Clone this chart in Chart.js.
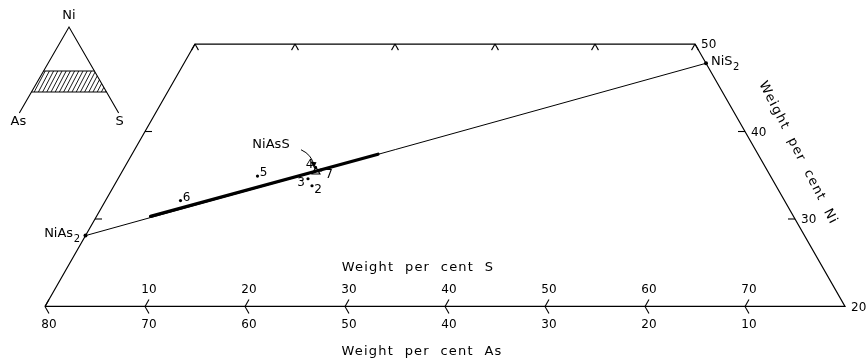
<!DOCTYPE html>
<html>
<head>
<meta charset="utf-8">
<script src="https://cdn.jsdelivr.net/npm/chart.js@4.4.0/dist/chart.umd.min.js"></script>
<style>
  html, body { margin: 0; padding: 0; background: #fff; }
  #plot { width: 866px; height: 359px; }
</style>
</head>
<body>
<div id="plot"><canvas id="chart" width="866" height="359"></canvas></div>
<script>
// compositions in weight per cent (Ni, S); As = 100 - Ni - S
const frameNi = [20, 20, 50, 50, 20];
const frameS = [0, 80, 50, 0, 0];

const phaseNames = ['NiAs2', 'NiAsS', 'NiS2'];
const phaseNi = [28.1, 35.4, 47.8];
const phaseS = [0, 19.4, 52.2];

// thick part of the NiAs2 - NiS2 join
const rangeNi = [30.3, 37.4];
const rangeS = [5.4, 24.6];

const sampleLabels = ['2', '3', '4', '5', '6', '7'];
const sampleNi = [33.8, 34.6, 35.9, 34.9, 32.1, 35.6];
const sampleS = [19.8, 19.0, 19.1, 13.8, 7.5, 19.8];

// bottom edge (Ni = 20): S ticks, As labels
const bottomTickS = [0, 10, 20, 30, 40, 50, 60, 70];
const bottomSLabels = ['', '10', '20', '30', '40', '50', '60', '70'];
const bottomAsLabels = ['80', '70', '60', '50', '40', '30', '20', '10'];
// top edge (Ni = 50)
const topTickS = [0, 10, 20, 30, 40, 50];
// Ni ticks on the side edges
const niTicks = [30, 40];
const niLabelValues = [50, 40, 30, 20];
const niLabels = ['50', '40', '30', '20'];

const R3 = Math.sqrt(3) / 2;
function toXY(ni, s) {
    return { x: s + ni / 2, y: ni * R3 };
}
function zip(nis, ss) {
    return nis.map((n, i) => toXY(n, ss[i]));
}

const FONT = '"DejaVu Sans", sans-serif';

const overlay = {
    id: 'overlay',
    afterDatasetsDraw(chart) {
        const ctx = chart.ctx;
        const xs = chart.scales.x, ys = chart.scales.y;
        const px = (ni, s) => {
            const p = toXY(ni, s);
            return [xs.getPixelForValue(p.x), ys.getPixelForValue(p.y)];
        };
        // unit pixel directions of the grid lines
        const dir = (a, b) => {
            const dx = b[0] - a[0], dy = b[1] - a[1];
            const l = Math.hypot(dx, dy);
            return [dx / l, dy / l];
        };
        const base = px(20, 10);
        const sDir = dir(base, px(21, 10));      // constant S, going up-right
        const asDir = dir(base, px(21, 9));      // constant As, going up-left

        ctx.save();
        ctx.strokeStyle = '#000';
        ctx.fillStyle = '#000';
        ctx.lineWidth = 1.1;
        const seg = (p, d, len) => {
            ctx.beginPath();
            ctx.moveTo(p[0], p[1]);
            ctx.lineTo(p[0] + d[0] * len, p[1] + d[1] * len);
            ctx.stroke();
        };

        // bottom ticks "<"
        bottomTickS.forEach(s => {
            const p = px(20, s);
            seg(p, sDir, 8);
            seg(p, [-asDir[0], -asDir[1]], 8);
        });
        // top ticks "^"
        topTickS.forEach(s => {
            const p = px(50, s);
            seg(p, [-sDir[0], -sDir[1]], 7);
            seg(p, [-asDir[0], -asDir[1]], 7);
        });
        // side ticks
        niTicks.forEach(n => {
            seg(px(n, 0), [1, 0], 7);
            seg(px(n, 100 - n), [-1, 0], 7);
        });

        // tick labels
        ctx.font = '12px ' + FONT;
        ctx.textAlign = 'center';
        ctx.textBaseline = 'middle';
        bottomTickS.forEach((s, i) => {
            const p = px(20, s);
            if (bottomSLabels[i]) ctx.fillText(bottomSLabels[i], p[0] + 4, p[1] - 17);
            ctx.fillText(bottomAsLabels[i], p[0] + 4, p[1] + 18);
        });
        ctx.textAlign = 'left';
        niLabelValues.forEach((n, i) => {
            const p = px(n, 100 - n);
            ctx.fillText(niLabels[i], p[0] + 6, p[1] + 1);
        });

        // axis titles
        ctx.font = '13px ' + FONT;
        ctx.letterSpacing = '1.2px';
        ctx.textAlign = 'center';
        ctx.fillText('Weight  per  cent  S', 418, 268);
        ctx.fillText('Weight  per  cent  As', 422, 352);
        ctx.save();
        ctx.translate(798, 153);
        ctx.rotate(63 * Math.PI / 180);
        ctx.fillText('Weight  per  cent  Ni', 0, 0);
        ctx.restore();
        ctx.letterSpacing = '0px';

        // phase labels
        const sub = (txt, subTxt, x, y, align) => {
            ctx.font = '13px ' + FONT;
            const w1 = ctx.measureText(txt).width;
            ctx.font = '10px ' + FONT;
            const w2 = ctx.measureText(subTxt).width;
            const x0 = align === 'right' ? x - w1 - w2 : x;
            ctx.textAlign = 'left';
            ctx.font = '13px ' + FONT;
            ctx.fillText(txt, x0, y);
            ctx.font = '10px ' + FONT;
            ctx.fillText(subTxt, x0 + w1 + 0.5, y + 6);
        };
        const pAs = px(phaseNi[0], phaseS[0]);
        sub('NiAs', '2', pAs[0] - 6, pAs[1] - 2, 'right');
        const pS = px(phaseNi[2], phaseS[2]);
        sub('NiS', '2', pS[0] + 5, pS[1] - 2, 'left');
        const pAsS = px(phaseNi[1], phaseS[1]);
        ctx.font = '13px ' + FONT;
        ctx.textAlign = 'center';
        ctx.fillText('NiAsS', pAsS[0] - 45, pAsS[1] - 27);

        // arrow to NiAsS
        ctx.lineWidth = 1;
        ctx.beginPath();
        ctx.moveTo(pAsS[0] - 15, pAsS[1] - 22);
        ctx.quadraticCurveTo(pAsS[0] - 4, pAsS[1] - 17, pAsS[0] - 2, pAsS[1] - 6);
        ctx.stroke();
        ctx.beginPath();
        ctx.moveTo(pAsS[0] - 2, pAsS[1] - 4);
        ctx.lineTo(pAsS[0] - 5.5, pAsS[1] - 10);
        ctx.lineTo(pAsS[0] + 0.5, pAsS[1] - 9.5);
        ctx.closePath();
        ctx.fill();

        // sample numbers
        const offs = { '2': [6, 4], '3': [-7, 4], '4': [-6, -3], '5': [6, -3], '6': [6, -3], '7': [8, 5] };
        ctx.font = '12px ' + FONT;
        sampleLabels.forEach((lab, i) => {
            const p = px(sampleNi[i], sampleS[i]);
            ctx.fillText(lab, p[0] + offs[lab][0], p[1] + offs[lab][1]);
        });

        // key triangle (upper left), hatched band = Ni 20-50
        const ax = 69, ay = 27, h = 86, half = h / Math.sqrt(3);
        const kx = t => half * t;
        ctx.lineWidth = 1.1;
        ctx.beginPath();
        ctx.moveTo(ax - half, ay + h);
        ctx.lineTo(ax, ay);
        ctx.lineTo(ax + half, ay + h);
        ctx.stroke();
        const y50 = ay + 44, y20 = ay + 65;
        const t50 = 44 / h, t20 = 65 / h;
        ctx.beginPath();
        ctx.moveTo(ax - kx(t50), y50); ctx.lineTo(ax + kx(t50), y50);
        ctx.moveTo(ax - kx(t20), y20); ctx.lineTo(ax + kx(t20), y20);
        ctx.stroke();
        ctx.save();
        ctx.beginPath();
        ctx.moveTo(ax - kx(t50), y50); ctx.lineTo(ax + kx(t50), y50);
        ctx.lineTo(ax + kx(t20), y20); ctx.lineTo(ax - kx(t20), y20);
        ctx.closePath();
        ctx.clip();
        ctx.lineWidth = 0.9;
        for (let x = ax - 60; x < ax + 70; x += 4.2) {
            ctx.beginPath();
            ctx.moveTo(x, y20);
            ctx.lineTo(x + 11, y50);
            ctx.stroke();
        }
        ctx.restore();
        ctx.font = '13px ' + FONT;
        ctx.textAlign = 'center';
        ctx.fillText('Ni', ax, 16);
        ctx.fillText('As', ax - half - 1, ay + h + 9);
        ctx.fillText('S', ax + half + 1, ay + h + 9);

        ctx.restore();
    }
};

const ctx = document.getElementById('chart').getContext('2d');
new Chart(ctx, {
    type: 'scatter',
    data: {
        datasets: [
            {   // trapezoid outline
                data: zip(frameNi, frameS),
                showLine: true, borderColor: '#000', borderWidth: 1.2,
                pointRadius: 0, tension: 0
            },
            {   // join NiAs2 - NiS2
                data: zip([phaseNi[0], phaseNi[2]], [phaseS[0], phaseS[2]]),
                showLine: true, borderColor: '#000', borderWidth: 1,
                pointRadius: 2, pointBackgroundColor: '#000', pointBorderWidth: 0
            },
            {   // observed range
                data: zip(rangeNi, rangeS),
                showLine: true, borderColor: '#000', borderWidth: 3.2,
                pointRadius: 0, borderCapStyle: 'round'
            },
            {   // analyses
                data: zip(sampleNi, sampleS),
                showLine: false, pointRadius: 1.6,
                pointBackgroundColor: '#000', pointBorderWidth: 0
            },
            {   // NiAsS
                data: zip([phaseNi[1]], [phaseS[1]]),
                showLine: false, pointStyle: 'triangle', pointRadius: 4.5,
                pointBackgroundColor: '#fff', pointBorderColor: '#000', pointBorderWidth: 1.2
            }
        ]
    },
    options: {
        responsive: false,
        animation: false,
        layout: { padding: 0, autoPadding: false },
        plugins: { legend: { display: false }, tooltip: { enabled: false } },
        scales: {
            x: { type: 'linear', display: false, min: 5.5, max: 92.1 },
            y: { type: 'linear', display: false, min: 12.12, max: 47.66 }
        }
    },
    plugins: [overlay]
});
</script>
</body>
</html>
